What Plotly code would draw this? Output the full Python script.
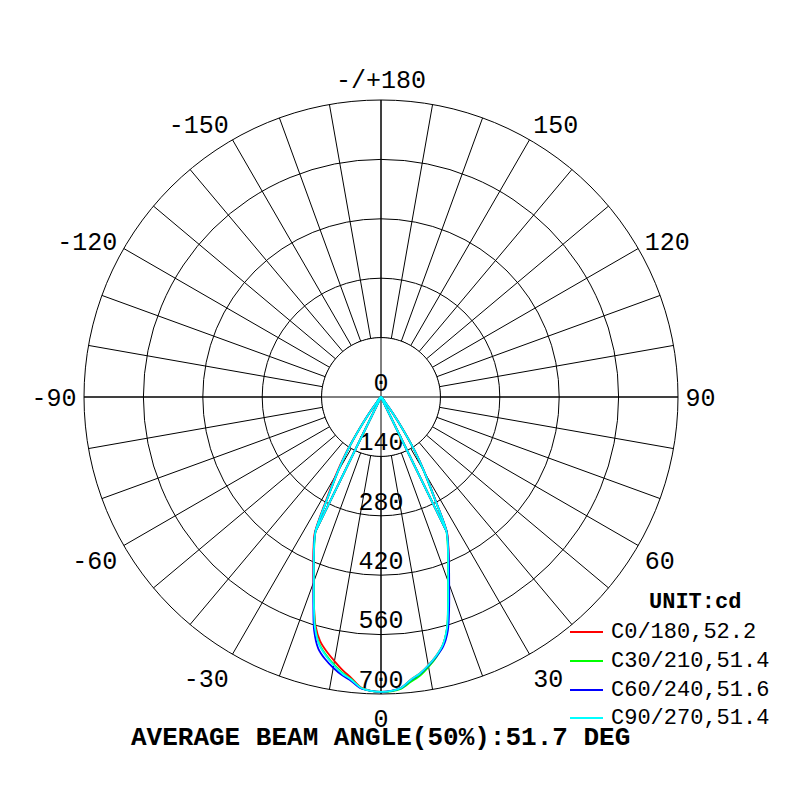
import plotly.graph_objects as go

# ---------------- data ----------------
GAMMA = [0, 2, 4, 6, 8, 10, 12, 14, 16, 18, 20, 22, 24, 26, 28, 30, 32, 34, 36, 38, 40]

PLANE_NAMES = ["C0/180,52.2", "C30/210,51.4", "C60/240,51.6", "C90/270,51.4"]
PLANE_COLORS = ["#ff0000", "#00ff00", "#0000ff", "#00ffff"]

# intensity (cd) on the C-plane half drawn to the right (positive gamma)
C0_RIGHT = [695, 693, 687, 670, 658, 642, 624, 602, 566, 514, 466, 426, 391, 355, 268, 207, 152, 93, 49, 18, 0]
C30_RIGHT = [695, 694, 689, 675, 663, 646, 627, 603, 565, 511, 462, 422, 387, 351, 263, 203, 149, 91, 47, 17, 0]
C60_RIGHT = [695, 693, 687, 671, 659, 643, 626, 606, 572, 520, 470, 428, 390, 353, 266, 205, 151, 92, 48, 18, 0]
C90_RIGHT = [695, 693, 687, 670, 658, 642, 624, 602, 565, 512, 463, 423, 388, 352, 265, 205, 150, 92, 48, 18, 0]

# intensity (cd) on the opposite C-plane half drawn to the left (negative gamma)
C0_LEFT = [695, 693, 686, 666, 650, 632, 614, 593, 560, 512, 466, 426, 391, 356, 275, 215, 158, 97, 51, 19, 0]
C30_LEFT = [695, 693, 687, 669, 656, 640, 622, 600, 564, 511, 462, 422, 387, 351, 263, 203, 149, 91, 47, 17, 0]
C60_LEFT = [695, 693, 688, 673, 662, 648, 632, 611, 572, 516, 465, 424, 389, 352, 265, 205, 150, 92, 48, 18, 0]
C90_LEFT = [695, 693, 687, 670, 658, 642, 624, 602, 565, 512, 463, 423, 388, 352, 265, 205, 150, 92, 48, 18, 0]

RIGHT = [C0_RIGHT, C30_RIGHT, C60_RIGHT, C90_RIGHT]
LEFT = [C0_LEFT, C30_LEFT, C60_LEFT, C90_LEFT]

JOIN_GAMMA = 26  # gamma where the radial edge line meets the lobe

RING_VALUES = [140, 280, 420, 560, 700]
RING_LABELS = ["0", "140", "280", "420", "560", "700"]

ANGLE_TICKS = list(range(0, 360, 10))
ANGLE_LABELS = {0: "0", 30: "30", 60: "60", 90: "90", 120: "120", 150: "150",
                180: "-/+180", 210: "-150", 240: "-120", 270: "-90", 300: "-60", 330: "-30"}

TITLE = "AVERAGE BEAM ANGLE(50%):51.7 DEG"
UNIT = "UNIT:cd"

MONO = "Liberation Mono, DejaVu Sans Mono, monospace"

# ---------------- figure ----------------
fig = go.Figure()

# inner white disk (hides spokes inside the first ring)
disk_theta = list(range(0, 361, 2))
fig.add_trace(go.Scatterpolar(
    theta=disk_theta, r=[RING_VALUES[0]] * len(disk_theta),
    mode="lines", fill="toself", fillcolor="white",
    line=dict(color="black", width=1), showlegend=False, hoverinfo="skip"))

# main cross axes through the centre
rmax = RING_VALUES[-1]
fig.add_trace(go.Scatterpolar(
    theta=[0, 0, 180, None, 90, 90, 270],
    r=[rmax, 0, rmax, None, rmax, 0, rmax],
    mode="lines", line=dict(color="black", width=1),
    showlegend=False, hoverinfo="skip"))

# radial value labels
fig.add_trace(go.Scatterpolar(
    theta=[0] * len(RING_LABELS), r=[0] + RING_VALUES,
    mode="text", text=RING_LABELS, textposition="top center",
    textfont=dict(family=MONO, size=25, color="black"),
    showlegend=False, hoverinfo="skip"))

# photometric curves
for name, color, right, left in zip(PLANE_NAMES, PLANE_COLORS, RIGHT, LEFT):
    theta = [-g for g in GAMMA[::-1]] + GAMMA[1:]
    r = left[::-1] + right[1:]
    j = GAMMA.index(JOIN_GAMMA)
    theta += [None, -JOIN_GAMMA, -JOIN_GAMMA, None, JOIN_GAMMA, JOIN_GAMMA]
    r += [None, 0, left[j], None, 0, right[j]]
    fig.add_trace(go.Scatterpolar(
        theta=theta, r=r, mode="lines", name=name,
        line=dict(color=color, width=1.8, shape="spline", smoothing=0.8),
        connectgaps=False, showlegend=False))

# legend drawn as text + swatches (page is offset by the 8px body margin)
legend_y = [0.22, 0.18375, 0.1475, 0.1125]
shapes = []
annotations = [
    dict(text="<b>" + TITLE + "</b>", x=0.465, y=0.0875, xref="paper", yref="paper",
         xanchor="center", yanchor="middle", showarrow=False,
         font=dict(family=MONO, size=26, color="black")),
    dict(text="<b>" + UNIT + "</b>", x=0.859, y=0.2575, xref="paper", yref="paper",
         xanchor="center", yanchor="middle", showarrow=False,
         font=dict(family=MONO, size=22, color="black")),
]
for name, color, ly in zip(PLANE_NAMES, PLANE_COLORS, legend_y):
    shapes.append(dict(type="line", xref="paper", yref="paper",
                       x0=0.7025, x1=0.74375, y0=ly, y1=ly,
                       line=dict(color=color, width=2)))
    annotations.append(dict(text=name, x=0.7515, y=ly, xref="paper", yref="paper",
                            xanchor="left", yanchor="middle", showarrow=False,
                            font=dict(family=MONO, size=22, color="black")))

fig.update_layout(
    width=800, height=800,
    margin=dict(l=0, r=0, t=0, b=0),
    paper_bgcolor="white", plot_bgcolor="white",
    polar=dict(
        domain=dict(x=[0.095, 0.8375], y=[0.1425, 0.885]),
        bgcolor="white",
        angularaxis=dict(
            rotation=-90, direction="counterclockwise",
            tickmode="array", tickvals=ANGLE_TICKS,
            ticktext=[ANGLE_LABELS.get(a, "") for a in ANGLE_TICKS],
            ticks="outside", ticklen=2, tickcolor="rgba(0,0,0,0)",
            showline=True, linecolor="black", linewidth=1,
            showgrid=True, gridcolor="black", gridwidth=1,
            tickfont=dict(family=MONO, size=25, color="black")),
        radialaxis=dict(
            range=[0, rmax], tickmode="array", tickvals=RING_VALUES,
            showticklabels=False, ticks="", showline=False,
            showgrid=True, gridcolor="black", gridwidth=1),
    ),
    showlegend=False,
    shapes=shapes,
    annotations=annotations,
)

fig.write_html("out.html")
